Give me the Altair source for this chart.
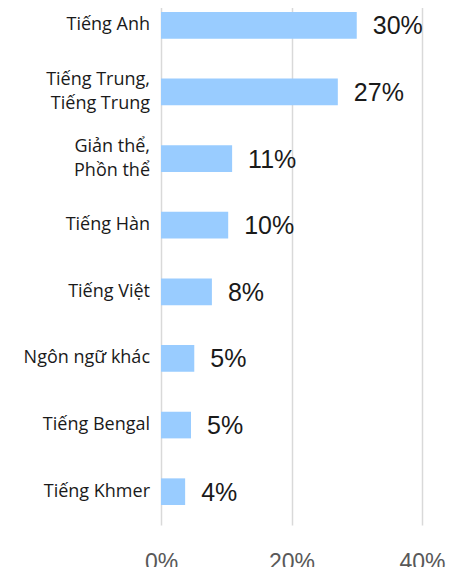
import altair as alt
import pandas as pd

categories = [
    "Tiếng Anh",
    "Tiếng Trung,\nTiếng Trung",
    "Giản thể,\nPhồn thể",
    "Tiếng Hàn",
    "Tiếng Việt",
    "Ngôn ngữ khác",
    "Tiếng Bengal",
    "Tiếng Khmer",
]
values = [0.300, 0.271, 0.109, 0.103, 0.078, 0.051, 0.046, 0.037]
labels = ["30%", "27%", "11%", "10%", "8%", "5%", "5%", "4%"]

df = pd.DataFrame({"lang": categories, "share": values, "label": labels})

y_enc = alt.Y(
    "lang:N",
    sort=categories,
    title=None,
    scale=alt.Scale(paddingInner=0.6, paddingOuter=0.3),
    axis=None,
)

x_enc = alt.X(
    "share:Q",
    title=None,
    scale=alt.Scale(domain=[0, 0.4], nice=False),
    axis=alt.Axis(
        values=[0, 0.2, 0.4],
        format=".0%",
        labelFont="Liberation Sans",
        labelFontSize=23,
        labelColor="#595959",
        labelPadding=26,
        labelFlush=False,
        ticks=False,
        domain=False,
        grid=True,
        gridColor="#d9d9d9",
        gridWidth=1.5,
    ),
)

bars = alt.Chart(df).mark_bar(color="#99CCFF").encode(x=x_enc, y=y_enc)

text = alt.Chart(df).mark_text(
    align="left", baseline="middle", dx=16, dy=1,
    font="Liberation Sans", fontSize=25, color="#1a1a1a",
).encode(
    x=alt.X("share:Q"),
    y=alt.Y("lang:N", sort=categories),
    text="label:N",
)

# yOffset with scale=None is measured from the band start (half bandwidth = 13.3)
cat_labels = alt.Chart(df).transform_calculate(
    off="indexof(datum.lang, '\\n') >= 0 ? 1.3 : 13.3"
).mark_text(
    align="right", baseline="middle", lineBreak="\n", lineHeight=24,
    font="Open Sans", fontSize=18, color="#1a1a1a",
).encode(
    x=alt.value(-11),
    y=alt.Y("lang:N", sort=categories),
    yOffset=alt.YOffset("off:Q", scale=None),
    text="lang:N",
)

chart = (
    alt.layer(bars, text, cat_labels)
    .properties(
        width=261,
        height=533,
        autosize=alt.AutoSizeParams(type="none"),
        padding={"left": 153, "top": -16, "right": 28, "bottom": 60},
    )
    .configure_view(stroke=None)
)

chart.save("out.html", embed_options={"renderer": "svg", "actions": False})
